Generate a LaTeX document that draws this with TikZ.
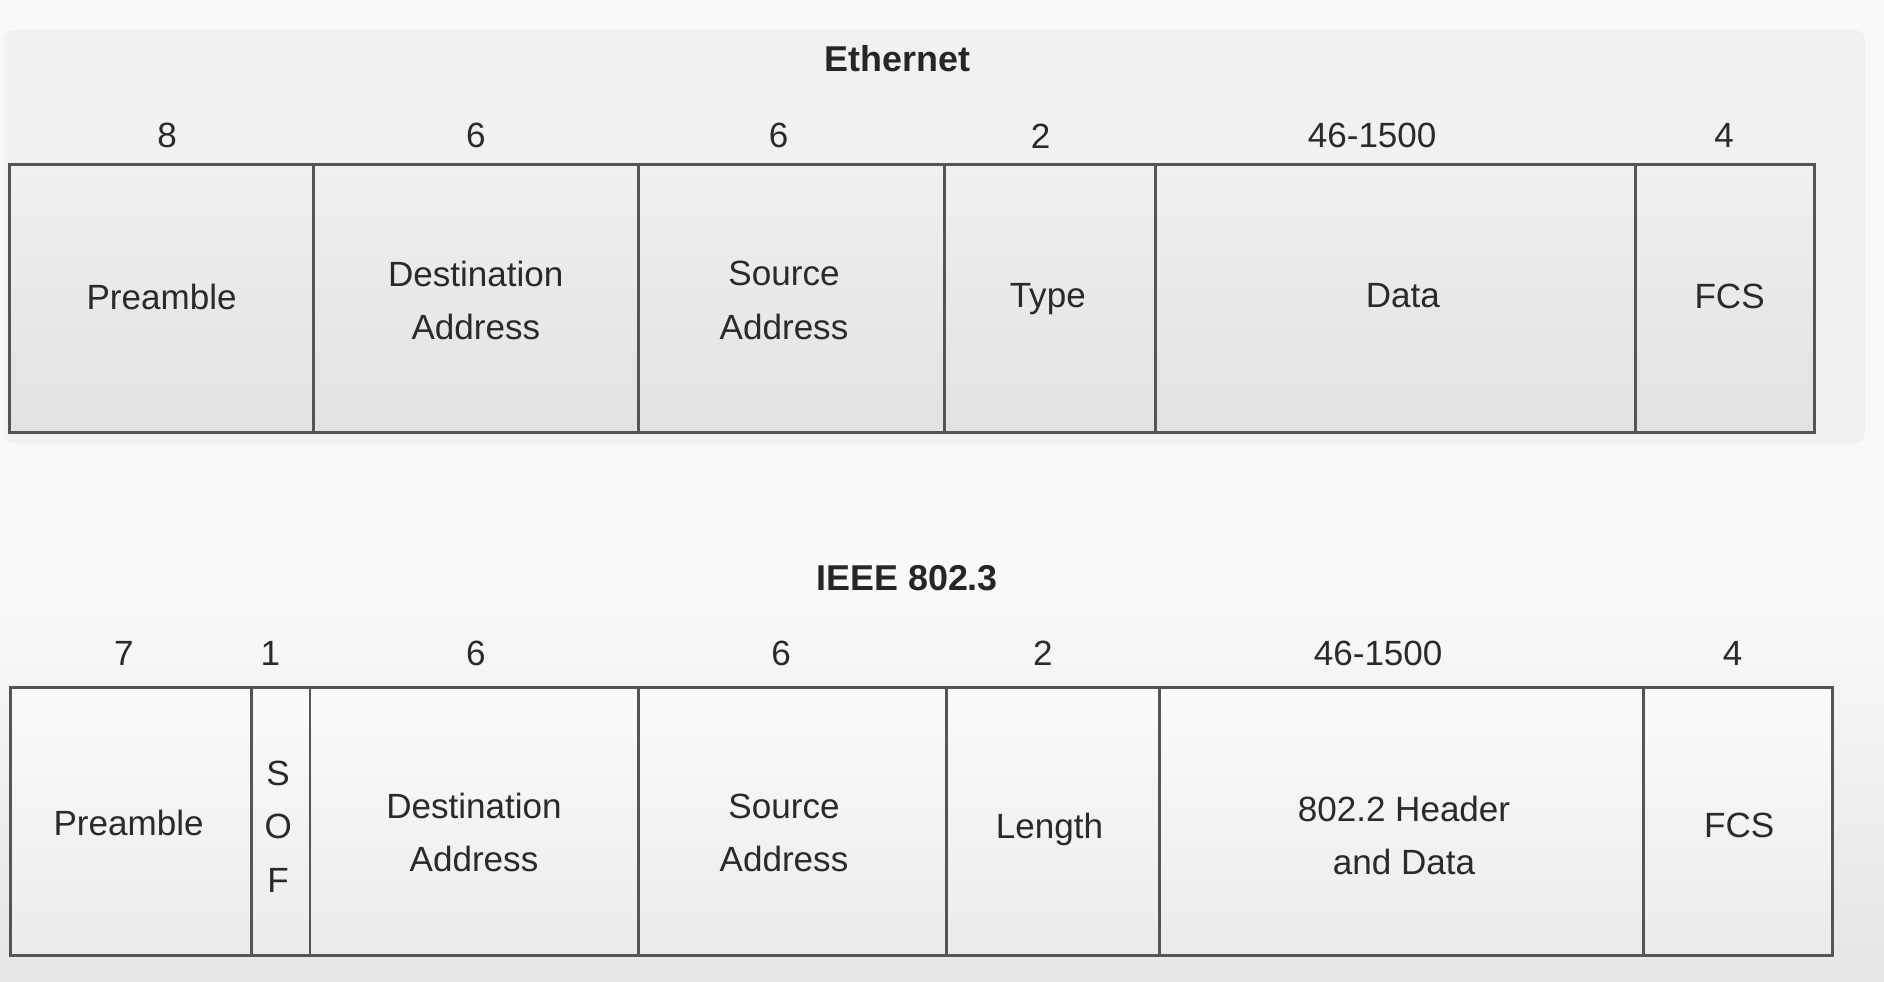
\documentclass[tikz,border=0pt]{standalone}
\usepackage{fontspec}
\setmainfont{Liberation Sans}
\usetikzlibrary{calc}

\definecolor{pagebg}{HTML}{F9F9F9}
\definecolor{cardbg}{HTML}{F1F1F1}
\definecolor{linegray}{HTML}{555555}
\definecolor{inkgray}{HTML}{2A2A2A}
\definecolor{ethtop}{HTML}{F0F0F0}
\definecolor{ethbot}{HTML}{E2E2E2}
\definecolor{ieeetop}{HTML}{FBFBFB}
\definecolor{ieeebot}{HTML}{EBEBEB}

\begin{document}
\begin{tikzpicture}[
    % Styles for the frame fields and their labels
    field/.style={draw=linegray, line width=0.7pt},
    fieldtext/.style={text=inkgray, align=center, font=\fontsize{8.3}{12.6}\selectfont},
    sizetext/.style={text=inkgray, font=\fontsize{8.3}{10}\selectfont},
    titletext/.style={text=black!85, font=\bfseries\fontsize{8.5}{10}\selectfont}
]

    % Page and panels

    \useasboundingbox (0,0) rectangle (15.68,-8.17);
    \fill[pagebg] (0,0) rectangle (15.68,-8.17);
    \fill[cardbg, rounded corners=0.08cm] (0.03,-0.25) rectangle (15.52,-3.69);
    \shade[top color=pagebg, bottom color=black!10] (0,-5.0) rectangle (15.68,-8.17);

    %% Height of the field boxes
    \def\fieldh{2.23}


    % Ethernet frame

    %% Field boundaries (top edge)
    \coordinate (E0) at (0.08, -1.37);
    \coordinate (E1) at (2.61, -1.37);
    \coordinate (E2) at (5.31, -1.37);
    \coordinate (E3) at (7.86, -1.37);
    \coordinate (E4) at (9.62, -1.37);
    \coordinate (E5) at (13.61, -1.37);
    \coordinate (E6) at (15.10, -1.37);

    %% Title
    \node[titletext] (eth-title) at (7.47, -0.49) {Ethernet};

    %% Outer box and separators
    \shade[field, top color=ethtop, bottom color=ethbot] (E0) rectangle ($(E6) + (0, -\fieldh)$);
    \draw[field] (E1) -- ++(0, -\fieldh);
    \draw[field] (E2) -- ++(0, -\fieldh);
    \draw[field] (E3) -- ++(0, -\fieldh);
    \draw[field] (E4) -- ++(0, -\fieldh);
    \draw[field] (E5) -- ++(0, -\fieldh);

    %% Field sizes
    \node[sizetext] (eth-pre-size) at (1.39, -1.13) {8};
    \node[sizetext] (eth-dst-size) at (3.96, -1.13) {6};
    \node[sizetext] (eth-src-size) at (6.48, -1.13) {6};
    \node[sizetext] (eth-type-size) at (8.66, -1.13) {2};
    \node[sizetext] (eth-data-size) at (11.42, -1.13) {46-1500};
    \node[sizetext] (eth-fcs-size) at (14.35, -1.13) {4};

    %% Field names
    \node[fieldtext] (eth-pre) at ($(E0)!0.5!(E1) + (0, -1.10)$) {Preamble};
    \node[fieldtext] (eth-dst) at ($(E1)!0.5!(E2) + (0, -1.13)$) {Destination\\Address};
    \node[fieldtext] (eth-src) at ($(E2)!0.5!(E3) + (-0.06, -1.13)$) {Source\\Address};
    \node[fieldtext] (eth-type) at ($(E3)!0.5!(E4) + (-0.02, -1.12)$) {Type};
    \node[fieldtext] (eth-data) at ($(E4)!0.5!(E5) + (0.06, -1.09)$) {Data};
    \node[fieldtext] (eth-fcs) at ($(E5)!0.5!(E6) + (0.04, -1.10)$) {FCS};


    % IEEE 802.3 frame

    %% Field boundaries (top edge)
    \coordinate (I0) at (0.09, -5.72);
    \coordinate (I1) at (2.09, -5.72);
    \coordinate (I2) at (2.58, -5.72);
    \coordinate (I3) at (5.31, -5.72);
    \coordinate (I4) at (7.88, -5.72);
    \coordinate (I5) at (9.65, -5.72);
    \coordinate (I6) at (13.68, -5.72);
    \coordinate (I7) at (15.25, -5.72);

    %% Title
    \node[titletext] (ieee-title) at (7.55, -4.81) {IEEE 802.3};

    %% Outer box and separators
    \shade[field, top color=ieeetop, bottom color=ieeebot] (I0) rectangle ($(I7) + (0, -\fieldh)$);
    \draw[field] (I1) -- ++(0, -\fieldh);
    \draw[field] (I2) -- ++(0, -\fieldh);
    \draw[field] (I3) -- ++(0, -\fieldh);
    \draw[field] (I4) -- ++(0, -\fieldh);
    \draw[field] (I5) -- ++(0, -\fieldh);
    \draw[field] (I6) -- ++(0, -\fieldh);

    %% Field sizes
    \node[sizetext] (ieee-pre-size) at (1.03, -5.44) {7};
    \node[sizetext] (ieee-sof-size) at (2.25, -5.44) {1};
    \node[sizetext] (ieee-dst-size) at (3.96, -5.44) {6};
    \node[sizetext] (ieee-src-size) at (6.50, -5.44) {6};
    \node[sizetext] (ieee-len-size) at (8.68, -5.44) {2};
    \node[sizetext] (ieee-data-size) at (11.47, -5.44) {46-1500};
    \node[sizetext] (ieee-fcs-size) at (14.42, -5.44) {4};

    %% Field names
    \node[fieldtext] (ieee-pre) at ($(I0)!0.5!(I1) + (-0.02, -1.13)$) {Preamble};
    \node[fieldtext] (ieee-sof) at ($(I1)!0.5!(I2) + (-0.02, -1.16)$) {S\\O\\F};
    \node[fieldtext] (ieee-dst) at ($(I2)!0.5!(I3) + (0, -1.21)$) {Destination\\Address};
    \node[fieldtext] (ieee-src) at ($(I3)!0.5!(I4) + (-0.07, -1.21)$) {Source\\Address};
    \node[fieldtext] (ieee-len) at ($(I4)!0.5!(I5) + (-0.03, -1.18)$) {Length};
    \node[fieldtext] (ieee-data) at ($(I5)!0.5!(I6) + (0.02, -1.23)$) {802.2 Header\\and Data};
    \node[fieldtext] (ieee-fcs) at ($(I6)!0.5!(I7) + (0.01, -1.15)$) {FCS};

\end{tikzpicture}
\end{document}
